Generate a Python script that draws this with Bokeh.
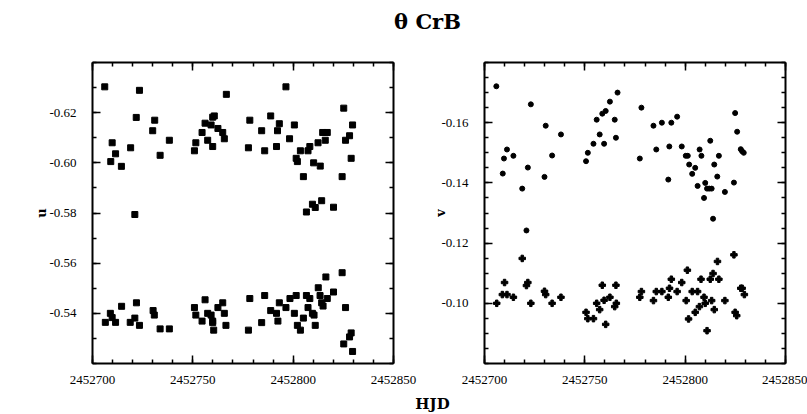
from bokeh.plotting import figure
from bokeh.models import Range1d, FixedTicker, LinearAxis, Label, PrintfTickFormatter
from bokeh.layouts import column, row
from bokeh.embed import file_html
from bokeh.resources import INLINE

# ---------------- data ----------------
hjd_u_a = [2452706.1, 2452709.1, 2452709.8, 2452711.5, 2452714.4, 2452719.0, 2452721.1, 2452721.8,
           2452723.4, 2452730.0, 2452731.0, 2452733.7, 2452738.3, 2452750.8, 2452751.5, 2452754.6,
           2452756.1, 2452757.4, 2452759.1, 2452759.9, 2452759.9, 2452760.7, 2452762.5, 2452764.9,
           2452765.7, 2452766.7, 2452777.7, 2452778.4, 2452784.3, 2452785.8, 2452788.8, 2452791.7,
           2452792.2, 2452793.1, 2452796.4, 2452798.2, 2452800.6, 2452801.5, 2452802.1, 2452803.6,
           2452805.1, 2452806.6, 2452807.4, 2452808.3, 2452809.6, 2452810.2, 2452811.0, 2452812.4,
           2452813.5, 2452814.2, 2452814.7, 2452816.0, 2452817.0, 2452820.1, 2452824.4, 2452825.2,
           2452826.1, 2452828.1, 2452828.9, 2452829.6]
u_a = [-0.6303, -0.6005, -0.6080, -0.6036, -0.5986, -0.6060, -0.5794, -0.6181,
       -0.6289, -0.6128, -0.6170, -0.6030, -0.6090, -0.6048, -0.6080, -0.6121,
       -0.6158, -0.6090, -0.6151, -0.6065, -0.6182, -0.6187, -0.6137, -0.6121,
       -0.6096, -0.6273, -0.6060, -0.6170, -0.6128, -0.6048, -0.6187, -0.6065,
       -0.6128, -0.6156, -0.6303, -0.6096, -0.6151, -0.6018, -0.6005, -0.6048,
       -0.5945, -0.5804, -0.6048, -0.6065, -0.5835, -0.6000, -0.5822, -0.6080,
       -0.5987, -0.5849, -0.6121, -0.6090, -0.6121, -0.5823, -0.5945, -0.6218,
       -0.6090, -0.6108, -0.6018, -0.6151]

hjd_u_b = [2452706.4, 2452708.9, 2452709.8, 2452711.5, 2452714.5, 2452718.8, 2452721.1, 2452721.9,
           2452723.4, 2452730.2, 2452730.8, 2452733.7, 2452738.3, 2452750.8, 2452751.5, 2452754.6,
           2452756.1, 2452757.4, 2452759.1, 2452759.9, 2452759.9, 2452760.4, 2452762.5, 2452764.9,
           2452765.7, 2452766.5, 2452777.7, 2452778.4, 2452784.3, 2452785.8, 2452788.8, 2452791.7,
           2452792.4, 2452793.1, 2452796.4, 2452798.4, 2452800.6, 2452801.5, 2452802.1, 2452803.6,
           2452805.1, 2452806.6, 2452807.4, 2452808.3, 2452809.6, 2452810.4, 2452811.0, 2452812.5,
           2452813.4, 2452814.2, 2452814.9, 2452816.3, 2452817.0, 2452820.1, 2452824.4, 2452825.2,
           2452826.1, 2452828.1, 2452828.9, 2452829.6]
u_b = [-0.5364, -0.5400, -0.5383, -0.5364, -0.5428, -0.5364, -0.5381, -0.5442,
       -0.5352, -0.5411, -0.5393, -0.5338, -0.5338, -0.5423, -0.5393, -0.5369,
       -0.5454, -0.5400, -0.5393, -0.5369, -0.5363, -0.5333, -0.5423, -0.5442,
       -0.5400, -0.5352, -0.5333, -0.5459, -0.5363, -0.5471, -0.5411, -0.5400,
       -0.5369, -0.5442, -0.5423, -0.5459, -0.5400, -0.5471, -0.5352, -0.5333,
       -0.5381, -0.5471, -0.5423, -0.5459, -0.5400, -0.5393, -0.5352, -0.5502,
       -0.5471, -0.5442, -0.5429, -0.5545, -0.5459, -0.5485, -0.5562, -0.5278,
       -0.5423, -0.5306, -0.5322, -0.5248]

hjd_v_a = [2452705.9, 2452709.1, 2452709.7, 2452711.2, 2452714.4, 2452718.8, 2452720.9, 2452721.6,
           2452723.1, 2452729.9, 2452730.5, 2452733.7, 2452738.1, 2452750.6, 2452751.5, 2452754.3,
           2452755.9, 2452757.4, 2452758.7, 2452759.6, 2452760.4, 2452762.5, 2452764.9, 2452765.5,
           2452766.3, 2452777.4, 2452778.2, 2452784.2, 2452785.6, 2452788.4, 2452791.6, 2452792.1,
           2452793.1, 2452796.0, 2452798.3, 2452800.3, 2452801.3, 2452802.0, 2452803.5, 2452805.0,
           2452806.2, 2452807.2, 2452808.1, 2452809.4, 2452810.0, 2452810.9, 2452812.0, 2452812.5,
           2452813.2, 2452813.9, 2452814.5, 2452816.0, 2452816.8, 2452819.8, 2452824.3, 2452824.9,
           2452825.9, 2452827.7, 2452828.4, 2452829.2]
v_a = [-0.1721, -0.1431, -0.1481, -0.1511, -0.1490, -0.1381, -0.1242, -0.1451,
       -0.1661, -0.1420, -0.1590, -0.1491, -0.1561, -0.1472, -0.1500, -0.1530,
       -0.1610, -0.1561, -0.1630, -0.1530, -0.1639, -0.1670, -0.1610, -0.1550,
       -0.1700, -0.1481, -0.1650, -0.1590, -0.1511, -0.1600, -0.1411, -0.1521,
       -0.1600, -0.1620, -0.1521, -0.1490, -0.1490, -0.1461, -0.1430, -0.1450,
       -0.1390, -0.1511, -0.1490, -0.1350, -0.1400, -0.1381, -0.1381, -0.1540,
       -0.1381, -0.1281, -0.1461, -0.1421, -0.1490, -0.1370, -0.1401, -0.1632,
       -0.1570, -0.1512, -0.1505, -0.1500]

hjd_v_b = [2452706.1, 2452708.9, 2452710.0, 2452711.2, 2452714.4, 2452718.8, 2452720.9, 2452721.6,
           2452723.1, 2452729.9, 2452730.5, 2452733.7, 2452738.1, 2452750.6, 2452751.5, 2452754.3,
           2452755.9, 2452757.4, 2452758.7, 2452759.6, 2452760.4, 2452762.5, 2452764.9, 2452765.7,
           2452765.5, 2452777.4, 2452778.2, 2452784.2, 2452785.6, 2452788.4, 2452791.6, 2452792.2,
           2452793.1, 2452796.0, 2452798.3, 2452800.5, 2452801.1, 2452801.7, 2452803.5, 2452805.0,
           2452806.2, 2452807.1, 2452807.9, 2452809.4, 2452810.0, 2452810.9, 2452812.5, 2452813.2,
           2452813.9, 2452814.5, 2452816.1, 2452816.8, 2452819.8, 2452824.3, 2452824.9, 2452825.7,
           2452827.7, 2452828.4, 2452829.5]
v_b = [-0.1000, -0.1029, -0.1069, -0.1029, -0.1020, -0.1149, -0.1059, -0.1069,
       -0.1000, -0.1040, -0.1029, -0.1000, -0.1020, -0.0970, -0.0949, -0.0949,
       -0.1000, -0.0979, -0.1060, -0.1010, -0.0930, -0.1020, -0.0989, -0.1000,
       -0.1060, -0.1020, -0.1039, -0.1009, -0.1039, -0.1039, -0.1020, -0.1050,
       -0.1080, -0.1039, -0.1069, -0.1009, -0.1110, -0.0948, -0.1039, -0.0970,
       -0.1039, -0.0989, -0.1080, -0.1020, -0.1000, -0.0909, -0.1080, -0.1009,
       -0.1099, -0.0979, -0.1139, -0.1080, -0.1009, -0.1161, -0.0970, -0.0959,
       -0.1050, -0.1050, -0.1029]

x_ticks = [2452700, 2452750, 2452800, 2452850]
x_minor = [2452700 + 10 * i for i in range(16)]
u_ticks = [-0.62, -0.60, -0.58, -0.56, -0.54]
u_minor = [round(-0.64 + 0.01 * i, 2) for i in range(13)]
v_ticks = [-0.16, -0.14, -0.12, -0.10]
v_minor = [round(-0.18 + 0.005 * i, 3) for i in range(21)]

TICK_FONT = "Liberation Serif"
LABEL_FONT = "DejaVu Serif"


def style_axis(ax, ticks, minor, fmt=None, labels=True, standoff=12):
    ax.ticker = FixedTicker(ticks=ticks, minor_ticks=minor)
    if fmt is not None:
        ax.formatter = fmt
    ax.major_tick_in = 8
    ax.major_tick_out = 0
    ax.minor_tick_in = 4
    ax.minor_tick_out = 0
    ax.major_tick_line_width = 1.5
    ax.minor_tick_line_width = 1.5
    ax.major_tick_line_color = "black"
    ax.minor_tick_line_color = "black"
    ax.axis_line_width = 2
    ax.axis_line_color = "black"
    ax.major_label_text_font = TICK_FONT
    ax.major_label_text_font_size = "13px"
    ax.major_label_standoff = standoff
    if labels:
        ax.major_label_text_color = "black"
    else:
        ax.major_label_text_color = None


def make_panel(width, mbl, mbr, y_range, yt, ym, ylabel, label_standoff):
    p = figure(width=width, height=347, x_range=Range1d(2452700, 2452850), y_range=y_range,
               output_backend="svg", toolbar_location=None,
               min_border_left=mbl, min_border_right=mbr, min_border_top=14, min_border_bottom=32)
    p.grid.visible = False
    p.outline_line_color = None
    p.background_fill_color = "white"
    p.border_fill_color = "white"
    style_axis(p.xaxis[0], x_ticks, x_minor, PrintfTickFormatter(format="%d"), standoff=12)
    style_axis(p.yaxis[0], yt, ym, PrintfTickFormatter(format="%.2f"), standoff=16)
    p.yaxis[0].axis_label = ylabel
    p.yaxis[0].axis_label_text_font = LABEL_FONT
    p.yaxis[0].axis_label_text_font_style = "bold"
    p.yaxis[0].axis_label_text_font_size = "13px"
    p.yaxis[0].axis_label_text_color = "black"
    p.yaxis[0].axis_label_standoff = label_standoff
    top = LinearAxis()
    style_axis(top, x_ticks, x_minor, labels=False, standoff=0)
    p.add_layout(top, "above")
    rgt = LinearAxis()
    style_axis(rgt, yt, ym, labels=False, standoff=0)
    p.add_layout(rgt, "right")
    return p


p1 = make_panel(424, 92, 31, Range1d(-0.52, -0.64), u_ticks, u_minor, "u", -3)
p1.scatter(hjd_u_a, u_a, marker="square", size=6, color="black")
p1.scatter(hjd_u_b, u_b, marker="square", size=6, color="black")

p2 = make_panel(383, 60, 22, Range1d(-0.08, -0.18), v_ticks, v_minor, "v", -10)
p2.scatter(hjd_v_a, v_a, marker="circle", size=5, color="black")
p2.scatter(hjd_v_b, v_b, marker="plus", size=6.5, color="black")

hdr = figure(width=807, height=48, x_range=Range1d(0, 807), y_range=Range1d(0, 48),
             output_backend="svg", toolbar_location=None, min_border=0,
             x_axis_location=None, y_axis_location=None)
hdr.grid.visible = False
hdr.outline_line_color = None
hdr.add_layout(Label(x=427, y=27, text="θ CrB", text_align="center", text_baseline="middle",
                     text_color="black",
                     text_font=LABEL_FONT, text_font_style="bold", text_font_size="21px"))

ftr = figure(width=807, height=18, x_range=Range1d(0, 807), y_range=Range1d(0, 18),
             output_backend="svg", toolbar_location=None, min_border=0,
             x_axis_location=None, y_axis_location=None)
ftr.grid.visible = False
ftr.outline_line_color = None
ftr.add_layout(Label(x=432, y=10, text="HJD", text_align="center", text_baseline="middle",
                     text_color="black",
                     text_font=LABEL_FONT, text_font_style="bold", text_font_size="15px"))

layout = column(hdr, row(p1, p2), ftr)
open("out.html", "w").write(file_html(layout, INLINE))
